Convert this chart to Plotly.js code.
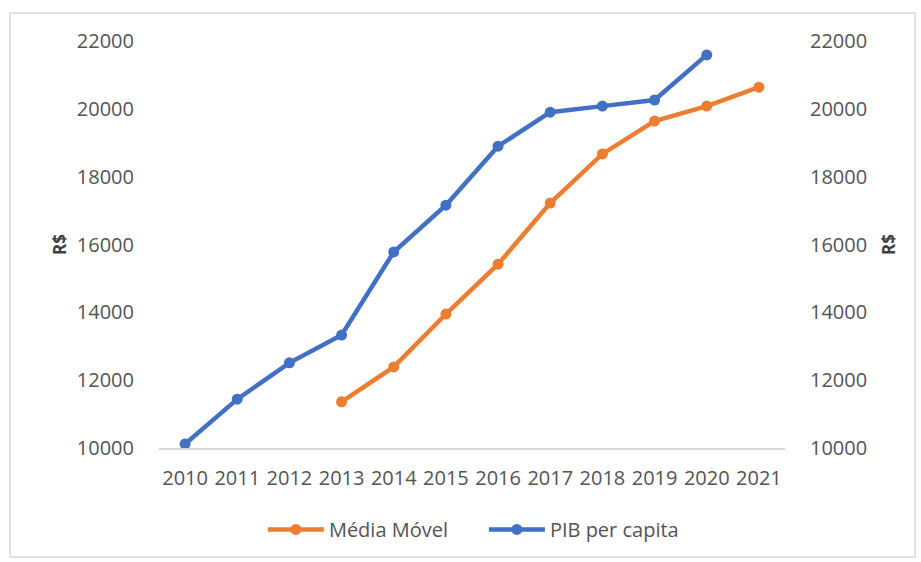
<!DOCTYPE html>
<html>
<head>
<meta charset="utf-8">
<script src="https://cdn.plot.ly/plotly-3.0.1.min.js"></script>
<style>
  html, body { margin: 0; padding: 0; background: #ffffff; }
  #chart { width: 921px; height: 562px; }
</style>
</head>
<body>
<div id="chart"></div>
<script>
const years = ['2010','2011','2012','2013','2014','2015','2016','2017','2018','2019','2020','2021'];
const pibPerCapita = [10120, 11440, 12510, 13330, 15780, 17160, 18900, 19900, 20080, 20260, 21590, null];
const mediaMovel = [null, null, null, 11360, 12390, 13950, 15420, 17220, 18670, 19640, 20080, 20640];
const yTicks = [10000, 12000, 14000, 16000, 18000, 20000, 22000];

const tickFont = { family: 'Open Sans, Arial, sans-serif', size: 20, color: '#545454' };
const titleFont = { family: 'Open Sans, Arial, sans-serif', size: 17, color: '#404040', weight: 'bold' };

const traces = [
  {
    x: years, y: mediaMovel, name: 'Média Móvel', type: 'scatter', mode: 'lines+markers',
    yaxis: 'y2',
    line: { color: '#ED7D31', width: 4.5 },
    marker: { color: '#ED7D31', size: 11, symbol: 'circle' }
  },
  {
    x: years, y: pibPerCapita, name: 'PIB per capita', type: 'scatter', mode: 'lines+markers',
    line: { color: '#4170C4', width: 4.5 },
    marker: { color: '#4170C4', size: 11, symbol: 'circle' }
  }
];

const layout = {
  width: 921, height: 562,
  margin: { l: 159, r: 136, t: 41, b: 114 },
  paper_bgcolor: '#ffffff', plot_bgcolor: '#ffffff',
  showlegend: true,
  legend: {
    orientation: 'h', x: 0.519, xanchor: 'center', y: -0.2, yanchor: 'middle',
    font: { family: 'Open Sans, Arial, sans-serif', size: 20, color: '#545454' },
    itemwidth: 56, entrywidth: 150, entrywidthmode: 'pixels', traceorder: 'normal'
  },
  xaxis: {
    type: 'category', range: [-0.5, 11.5],
    showgrid: false, zeroline: false,
    showline: true, linecolor: '#d9d9d9', linewidth: 1.5,
    ticks: 'outside', ticklen: 11, tickcolor: 'rgba(0,0,0,0)',
    tickfont: tickFont, fixedrange: true
  },
  yaxis: {
    range: [10000, 22000], tickvals: yTicks, ticktext: yTicks.map(String),
    showgrid: false, zeroline: false, showline: false,
    ticks: 'outside', ticklen: 20, tickcolor: 'rgba(0,0,0,0)',
    tickfont: tickFont,
    title: { text: 'R$', font: titleFont, standoff: 5 },
    automargin: false
  },
  yaxis2: {
    range: [10000, 22000], tickvals: yTicks, ticktext: yTicks.map(String),
    overlaying: 'y', side: 'right',
    showgrid: false, zeroline: false, showline: false,
    ticks: 'outside', ticklen: 20, tickcolor: 'rgba(0,0,0,0)',
    tickfont: tickFont,
    title: { text: 'R$', font: titleFont, standoff: 16 },
    automargin: false
  },
  shapes: [
    {
      type: 'rect', xref: 'paper', yref: 'paper',
      x0: -0.238, x1: 1.208, y0: -0.268, y1: 1.069,
      line: { color: '#d9d9d9', width: 1.5 }, fillcolor: 'rgba(0,0,0,0)', layer: 'below'
    }
  ]
};

Plotly.newPlot('chart', traces, layout, { displayModeBar: false, staticPlot: true });
</script>
</body>
</html>
